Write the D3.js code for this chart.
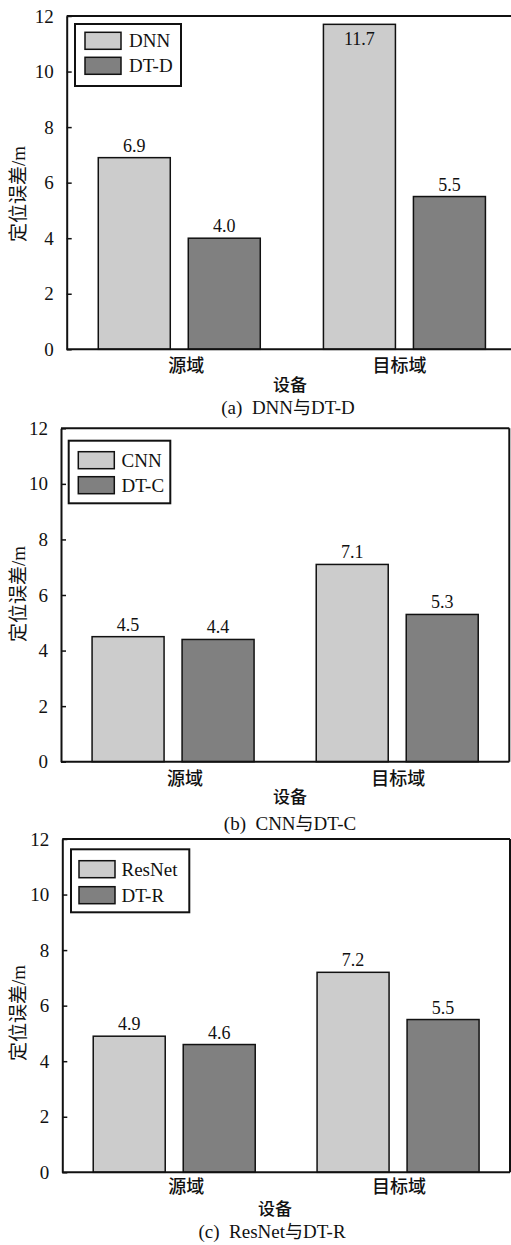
<!DOCTYPE html>
<html>
<head>
<meta charset="utf-8">
<script src="https://cdn.jsdelivr.net/npm/d3@7"></script>
<style>
  body { margin: 0; background: #fff; }
  svg { display: block; }
  .num { font-family: "Liberation Serif", "Times New Roman", serif; }
  .zh { font-family: "Noto Sans CJK SC", sans-serif; }
</style>
</head>
<body>
<div id="chart"></div>
<script>
// data
const categories = ["源域", "目标域"];
const yTicks = [0, 2, 4, 6, 8, 10, 12];

const seriesA = ["DNN", "DT-D"];
const baselineA = [6.9, 11.7];
const proposedA = [4.0, 5.5];

const seriesB = ["CNN", "DT-C"];
const baselineB = [4.5, 7.1];
const proposedB = [4.4, 5.3];

const seriesC = ["ResNet", "DT-R"];
const baselineC = [4.9, 7.2];
const proposedC = [4.6, 5.5];

// caption pieces: latin before, chinese joiner, latin after
const captions = [["(a)  DNN", "与", "DT-D"], ["(b)  CNN", "与", "DT-C"], ["(c)  ResNet", "与", "DT-R"]];
const xTitle = "设备";
const yTitle = ["定位误差", "/m"];

const colors = ["#cccccc", "#808080"];

// layout for each panel (pixel positions)
const panels = [
  { series: seriesA, vals: [baselineA, proposedA], caption: captions[0],
    left: 66.7, right: 517, top: 16, bottom: 349.3,
    legend: { x: 75, y: 24, w: 106, h: 62, sy: [32.3, 57.3], sx: 85, tx: 129 },
    catY: 366, catDx: [7, -5], xt: [290, 385], cap: [288, 407.5], yl: [18, 194] },
  { series: seriesB, vals: [baselineB, proposedB], caption: captions[1],
    left: 61, right: 509.3, top: 428.3, bottom: 761.7,
    legend: { x: 68.7, y: 440.7, w: 101.6, h: 62.6, sy: [451.7, 476.7], sx: 78.3, tx: 121.5 },
    catY: 778.3, catDx: [12, 1], xt: [290, 797], cap: [290, 823.5], yl: [18, 594] },
  { series: seriesC, vals: [baselineC, proposedC], caption: captions[2],
    left: 62.3, right: 510, top: 839, bottom: 1172.3,
    legend: { x: 71, y: 849.3, w: 118.3, h: 63, sy: [860.7, 886.7], sx: 79, tx: 121.5 },
    catY: 1186.7, catDx: [12, 1], xt: [275, 1209], cap: [272, 1231], yl: [18, 1013] }
];

const width = 511, height = 1245;

const svg = d3.select("#chart").append("svg")
    .attr("width", width)
    .attr("height", height)
    .attr("viewBox", `0 0 ${width} ${height}`);

panels.forEach(p => {
    const g = svg.append("g");

    const y = d3.scaleLinear().domain([0, 12]).range([p.bottom, p.top]);
    const x0 = d3.scaleBand().domain(categories).range([p.left, p.right]).padding(0);
    const x1 = d3.scaleBand().domain(p.series).range([-81, 81]).paddingInner(0.2);

    const rows = [];
    categories.forEach((c, i) => {
        p.series.forEach((s, j) => rows.push({ cat: c, s: s, j: j, v: p.vals[j][i] }));
    });

    const center = c => x0(c) + x0.bandwidth() / 2;

    // bars
    g.append("g")
        .selectAll("rect")
        .data(rows)
        .join("rect")
        .attr("x", d => center(d.cat) + x1(d.s))
        .attr("y", d => y(d.v))
        .attr("width", x1.bandwidth())
        .attr("height", d => y(0) - y(d.v))
        .attr("fill", d => colors[d.j])
        .attr("stroke", "#111")
        .attr("stroke-width", 1.5);

    // value labels, inside the bar when there is no room above
    g.append("g")
        .selectAll("text")
        .data(rows)
        .join("text")
        .attr("class", "num")
        .attr("x", d => center(d.cat) + x1(d.s) + x1.bandwidth() / 2)
        .attr("y", d => y(d.v) - 20 < p.top ? y(d.v) + 21 : y(d.v) - 6)
        .attr("text-anchor", "middle")
        .style("font-size", "18px")
        .style("fill", "#111")
        .text(d => d.v.toFixed(1));

    // top and right border
    g.append("line")
        .attr("x1", p.left).attr("x2", p.right)
        .attr("y1", p.top).attr("y2", p.top)
        .attr("stroke", "#111").attr("stroke-width", 2);
    g.append("line")
        .attr("x1", p.right).attr("x2", p.right)
        .attr("y1", p.top).attr("y2", p.bottom)
        .attr("stroke", "#111").attr("stroke-width", 2);

    // y axis
    const yAxis = g.append("g")
        .attr("transform", `translate(${p.left},0)`)
        .call(d3.axisLeft(y).tickValues(yTicks).tickSizeInner(-5).tickSizeOuter(0).tickPadding(13));
    yAxis.attr("font-family", null);
    yAxis.select(".domain").attr("stroke", "#111").attr("stroke-width", 2);
    yAxis.selectAll(".tick line").attr("stroke", "#111").attr("stroke-width", 1.5);
    yAxis.selectAll(".tick text")
        .attr("class", "num")
        .style("font-size", "19px")
        .style("fill", "#111");

    // x axis line
    g.append("line")
        .attr("x1", p.left).attr("x2", p.right)
        .attr("y1", p.bottom).attr("y2", p.bottom)
        .attr("stroke", "#111").attr("stroke-width", 2);

    // category labels
    g.append("g")
        .selectAll("text")
        .data(categories)
        .join("text")
        .attr("class", "zh")
        .attr("x", (d, i) => center(d) + p.catDx[i])
        .attr("y", p.catY)
        .attr("dy", "0.35em")
        .attr("text-anchor", "middle")
        .style("font-size", "18px")
        .style("font-weight", 500)
        .style("fill", "#111")
        .text(d => d);

    // axis titles
    g.append("text")
        .attr("class", "zh")
        .attr("x", p.xt[0]).attr("y", p.xt[1])
        .attr("dy", "0.35em")
        .attr("text-anchor", "middle")
        .style("font-size", "17px")
        .style("font-weight", 500)
        .style("fill", "#111")
        .text(xTitle);

    const yt = g.append("text")
        .attr("transform", `translate(${p.yl[0]},${p.yl[1]}) rotate(-90)`)
        .attr("dy", "0.35em")
        .attr("text-anchor", "middle")
        .style("font-size", "19px")
        .style("fill", "#111");
    yt.append("tspan").attr("class", "zh").text(yTitle[0]);
    yt.append("tspan").attr("class", "num").text(yTitle[1]);

    // caption
    const cap = g.append("text")
        .attr("x", p.cap[0]).attr("y", p.cap[1])
        .attr("dy", "0.35em")
        .attr("text-anchor", "middle")
        .style("font-size", "19px")
        .style("fill", "#111")
        .style("white-space", "pre");
    cap.append("tspan").attr("class", "num").text(p.caption[0]);
    cap.append("tspan").attr("class", "zh").style("font-size", "18px").text(p.caption[1]);
    cap.append("tspan").attr("class", "num").text(p.caption[2]);

    // legend
    const L = p.legend;
    g.append("rect")
        .attr("x", L.x).attr("y", L.y)
        .attr("width", L.w).attr("height", L.h)
        .attr("fill", "#fff")
        .attr("stroke", "#111")
        .attr("stroke-width", 2);

    const items = g.append("g")
        .selectAll("g")
        .data(p.series)
        .join("g");

    items.append("rect")
        .attr("x", L.sx)
        .attr("y", (d, i) => L.sy[i])
        .attr("width", 36)
        .attr("height", 17)
        .attr("fill", (d, i) => colors[i])
        .attr("stroke", "#111")
        .attr("stroke-width", 1.5);

    items.append("text")
        .attr("class", "num")
        .attr("x", L.tx)
        .attr("y", (d, i) => L.sy[i] + 8.5)
        .attr("dy", "0.35em")
        .style("font-size", "19px")
        .style("fill", "#111")
        .text(d => d);
});
</script>
</body>
</html>
